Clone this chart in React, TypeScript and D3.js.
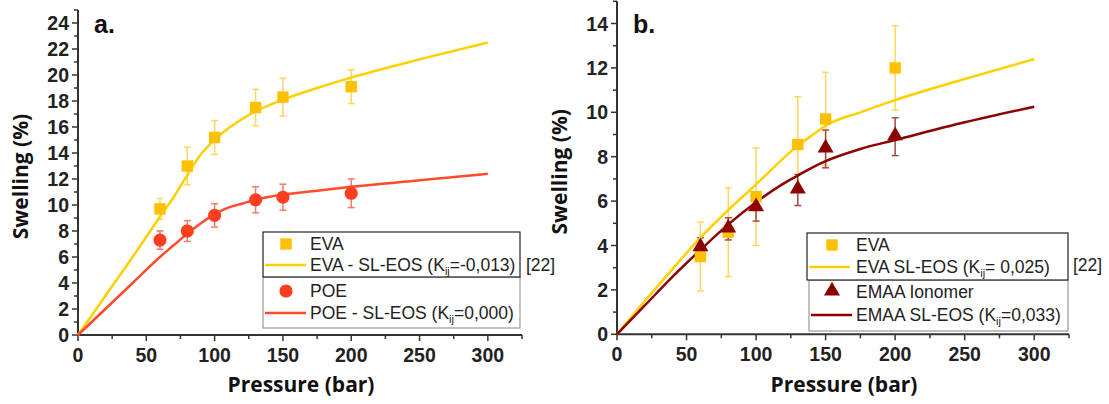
import React from "react";
import * as d3 from "d3";

// ---------- data ----------
const pressures = [60, 80, 100, 130, 150, 200];

// panel a
const evaA = [9.7, 13.0, 15.2, 17.5, 18.3, 19.1];
const evaAErr = [0.8, 1.45, 1.3, 1.4, 1.45, 1.3];
const poeA = [7.3, 8.0, 9.2, 10.4, 10.6, 10.9];
const poeAErr = [0.7, 0.8, 0.9, 1.0, 1.0, 1.1];
const modelP = [0, 20, 40, 60, 70, 80, 90, 100, 110, 120, 130, 150, 175, 200, 250, 300];
const evaAModel = [0, 3.0, 6.0, 9.1, 10.6, 12.3, 13.9, 15.0, 15.9, 16.6, 17.2, 18.1, 19.0, 19.8, 21.2, 22.5];
const poeAModel = [0, 2.0, 4.0, 6.0, 6.9, 7.8, 8.6, 9.3, 9.8, 10.1, 10.4, 10.8, 11.1, 11.4, 11.9, 12.4];

// panel b
const evaB = [3.5, 4.6, 6.2, 8.55, 9.7, 12.0];
const evaBErr = [1.55, 2.0, 2.2, 2.15, 2.1, 1.9];
const emaaB = [3.9, 4.75, 5.7, 6.5, 8.35, 8.9];
const emaaBErr = [0.45, 0.5, 0.6, 0.7, 0.85, 0.85];
const modelPB = [0, 20, 40, 60, 80, 100, 120, 130, 140, 150, 175, 200, 250, 300];
const evaBModel = [0, 1.5, 2.95, 4.35, 5.6, 6.75, 7.95, 8.5, 8.95, 9.4, 10.0, 10.55, 11.5, 12.4];
const emaaBModel = [0, 1.3, 2.6, 3.8, 4.95, 5.95, 6.8, 7.15, 7.5, 7.8, 8.35, 8.75, 9.55, 10.25];

const xMajor = [0, 50, 100, 150, 200, 250, 300];
const xMinor = [25, 75, 125, 175, 225, 275, 325];
const yMajorA = [0, 2, 4, 6, 8, 10, 12, 14, 16, 18, 20, 22, 24];
const yMinorA = [1, 3, 5, 7, 9, 11, 13, 15, 17, 19, 21, 23, 25];
const yMajorB = [0, 2, 4, 6, 8, 10, 12, 14];
const yMinorB = [1, 3, 5, 7, 9, 11, 13, 15];

const YELLOW = "#FFC000";
const YELLOW_LINE = "#FFD000";
const YELLOW_ERR = "#FFD65C";
const RED = "#FF3D1F";
const RED_LINE = "#FF4B2B";
const RED_ERR = "#F27A68";
const DARK = "#8E0000";
const DARK_ERR = "#A34848";
const AXIS = "#333333";

const tickFont = "'Liberation Sans', Arial, sans-serif";
const titleFont = "'Open Sans', 'Liberation Sans', sans-serif";

type Panel = {
  x0: number; x1: number; yTop: number; yBot: number; yMax: number;
  yMajor: number[]; yMinor: number[]; label: string;
};

function Axes({ p, xs, ys }: { p: Panel; xs: d3.ScaleLinear<number, number>; ys: d3.ScaleLinear<number, number> }) {
  return (
    <g>
      <line x1={p.x0} x2={p.x1} y1={p.yBot} y2={p.yBot} stroke={AXIS} strokeWidth={2} />
      <line x1={p.x0} x2={p.x0} y1={p.yBot} y2={p.yTop} stroke={AXIS} strokeWidth={2} />
      {xMajor.map((v) => (
        <g key={"xm" + v}>
          <line x1={xs(v)} x2={xs(v)} y1={p.yBot} y2={p.yBot + 6} stroke={AXIS} strokeWidth={1.5} />
          <text x={xs(v)} y={p.yBot + 27} textAnchor="middle" fontFamily={tickFont} fontWeight="bold" fontSize={19.5} fill="#222">{v}</text>
        </g>
      ))}
      {xMinor.map((v) => (
        <line key={"xn" + v} x1={xs(v)} x2={xs(v)} y1={p.yBot} y2={p.yBot + 4} stroke={AXIS} strokeWidth={1.5} />
      ))}
      {p.yMajor.map((v) => (
        <g key={"ym" + v}>
          <line x1={p.x0 - 6} x2={p.x0} y1={ys(v)} y2={ys(v)} stroke={AXIS} strokeWidth={1.5} />
          <text x={p.x0 - 9} y={ys(v) + 7} textAnchor="end" fontFamily={tickFont} fontWeight="bold" fontSize={19.5} fill="#222">{v}</text>
        </g>
      ))}
      {p.yMinor.map((v) => (
        <line key={"yn" + v} x1={p.x0 - 4} x2={p.x0} y1={ys(v)} y2={ys(v)} stroke={AXIS} strokeWidth={1.5} />
      ))}
      <text x={(p.x0 + p.x1) / 2 + 1} y={392} textAnchor="middle" fontFamily={titleFont} fontWeight="bold" fontSize={21} fill="#111">Pressure (bar)</text>
      <text transform={`translate(${p.x0 - 50},${(p.yTop + p.yBot) / 2 + 4}) rotate(-90)`} textAnchor="middle" fontFamily={titleFont} fontWeight="bold" fontSize={21} fill="#111">Swelling (%)</text>
      <text x={p.x0 + 16} y={33} fontFamily={tickFont} fontWeight="bold" fontSize={25} fill="#111">{p.label}</text>
    </g>
  );
}

function ErrBars({ xs, ys, vals, errs, color }: any) {
  return (
    <g stroke={color} strokeWidth={1.5}>
      {pressures.map((pv, i) => {
        const x = xs(pv), yh = ys(vals[i] + errs[i]), yl = ys(vals[i] - errs[i]);
        return (
          <g key={i}>
            <line x1={x} x2={x} y1={yh} y2={yl} />
            <line x1={x - 3.5} x2={x + 3.5} y1={yh} y2={yh} />
            <line x1={x - 3.5} x2={x + 3.5} y1={yl} y2={yl} />
          </g>
        );
      })}
    </g>
  );
}

const sqPath = d3.symbol(d3.symbolSquare, 130)()!;
const circPath = d3.symbol(d3.symbolCircle, 135)()!;
const triPath = d3.symbol(d3.symbolTriangle, 110)()!;

function Kij({ x, y, rest, pre }: { x: number; y: number; pre: string; rest: string }) {
  return (
    <text x={x} y={y} fontFamily={tickFont} fontSize={17.5} fill="#222">
      {pre}
      <tspan>K</tspan>
      <tspan fontSize={11} dy={4}>ij</tspan>
      <tspan dy={-4}>{rest}</tspan>
    </text>
  );
}

export default function App() {
  const pA: Panel = { x0: 78, x1: 522, yTop: 10, yBot: 335, yMax: 25, yMajor: yMajorA, yMinor: yMinorA, label: "a." };
  const pB: Panel = { x0: 617, x1: 1069, yTop: 1.3, yBot: 334.3, yMax: 15, yMajor: yMajorB, yMinor: yMinorB, label: "b." };
  const xsA = d3.scaleLinear().domain([0, 325]).range([pA.x0, pA.x1]);
  const ysA = d3.scaleLinear().domain([0, 25]).range([pA.yBot, pA.yTop]);
  const xsB = d3.scaleLinear().domain([0, 325]).range([pB.x0, pB.x1]);
  const ysB = d3.scaleLinear().domain([0, 15]).range([pB.yBot, pB.yTop]);

  const lineA = d3.line<number>().x((_, i) => xsA(modelP[i])).y((d) => ysA(d)).curve(d3.curveMonotoneX);
  const lineB = d3.line<number>().x((_, i) => xsB(modelPB[i])).y((d) => ysB(d)).curve(d3.curveMonotoneX);

  return (
    <svg width={1109} height={404} style={{ position: "absolute", left: 0, top: 0, background: "#fff" }}>
      <rect width={1109} height={404} fill="#fff" />
      {/* Panel a */}
      <Axes p={pA} xs={xsA} ys={ysA} />
      <ErrBars xs={xsA} ys={ysA} vals={evaA} errs={evaAErr} color={YELLOW_ERR} />
      <ErrBars xs={xsA} ys={ysA} vals={poeA} errs={poeAErr} color={RED_ERR} />
      <path d={lineA(evaAModel)!} fill="none" stroke={YELLOW_LINE} strokeWidth={2.5} />
      <path d={lineA(poeAModel)!} fill="none" stroke={RED_LINE} strokeWidth={2.5} />
      {pressures.map((pv, i) => (
        <path key={"ea" + i} d={sqPath} transform={`translate(${xsA(pv)},${ysA(evaA[i])})`} fill={YELLOW} />
      ))}
      {pressures.map((pv, i) => (
        <path key={"pa" + i} d={circPath} transform={`translate(${xsA(pv)},${ysA(poeA[i])})`} fill={RED} />
      ))}
      {/* legend a */}
      <rect x={263} y={277} width={257} height={51} fill="#fff" stroke="#999" strokeWidth={1.2} />
      <rect x={263} y={232} width={257} height={45} fill="#fff" stroke="#222" strokeWidth={1.2} />
      <path d={sqPath} transform="translate(286,244)" fill={YELLOW} />
      <text x={310} y={250} fontFamily={tickFont} fontSize={17.5} fill="#222">EVA</text>
      <line x1={265} x2={306} y1={265} y2={265} stroke={YELLOW_LINE} strokeWidth={2.5} />
      <Kij x={310} y={271} pre="EVA - SL-EOS (" rest="=-0,013)" />
      <path d={circPath} transform="translate(286,291)" fill={RED} />
      <text x={310} y={297} fontFamily={tickFont} fontSize={17.5} fill="#222">POE</text>
      <line x1={265} x2={306} y1={313} y2={313} stroke={RED_LINE} strokeWidth={2.5} />
      <Kij x={310} y={319} pre="POE - SL-EOS (" rest="=0,000)" />
      <text x={526} y={271} fontFamily={tickFont} fontSize={17.5} fill="#222">[22]</text>

      {/* Panel b */}
      <Axes p={pB} xs={xsB} ys={ysB} />
      <ErrBars xs={xsB} ys={ysB} vals={evaB} errs={evaBErr} color={YELLOW_ERR} />
      <ErrBars xs={xsB} ys={ysB} vals={emaaB} errs={emaaBErr} color={DARK_ERR} />
      <path d={lineB(evaBModel)!} fill="none" stroke={YELLOW_LINE} strokeWidth={2.5} />
      <path d={lineB(emaaBModel)!} fill="none" stroke={DARK} strokeWidth={2.5} />
      {pressures.map((pv, i) => (
        <path key={"eb" + i} d={sqPath} transform={`translate(${xsB(pv)},${ysB(evaB[i])})`} fill={YELLOW} />
      ))}
      {pressures.map((pv, i) => (
        <path key={"mb" + i} d={triPath} transform={`translate(${xsB(pv)},${ysB(emaaB[i]) - 1})`} fill={DARK} />
      ))}
      {/* legend b */}
      <rect x={809} y={280} width={259} height={51} fill="#fff" stroke="#999" strokeWidth={1.2} />
      <rect x={807} y={233} width={261} height={47} fill="#fff" stroke="#222" strokeWidth={1.2} />
      <path d={sqPath} transform="translate(832,245)" fill={YELLOW} />
      <text x={856} y={251} fontFamily={tickFont} fontSize={17.5} fill="#222">EVA</text>
      <line x1={809} x2={850} y1={267} y2={267} stroke={YELLOW_LINE} strokeWidth={2.5} />
      <Kij x={856} y={273} pre="EVA SL-EOS (" rest="= 0,025)" />
      <path d={triPath} transform="translate(832,291)" fill={DARK} />
      <text x={856} y={298} fontFamily={tickFont} fontSize={17.5} fill="#222">EMAA Ionomer</text>
      <line x1={811} x2={852} y1={315} y2={315} stroke={DARK} strokeWidth={2.5} />
      <Kij x={856} y={321} pre="EMAA SL-EOS (" rest="=0,033)" />
      <text x={1073} y={271} fontFamily={tickFont} fontSize={17.5} fill="#222">[22]</text>
    </svg>
  );
}
